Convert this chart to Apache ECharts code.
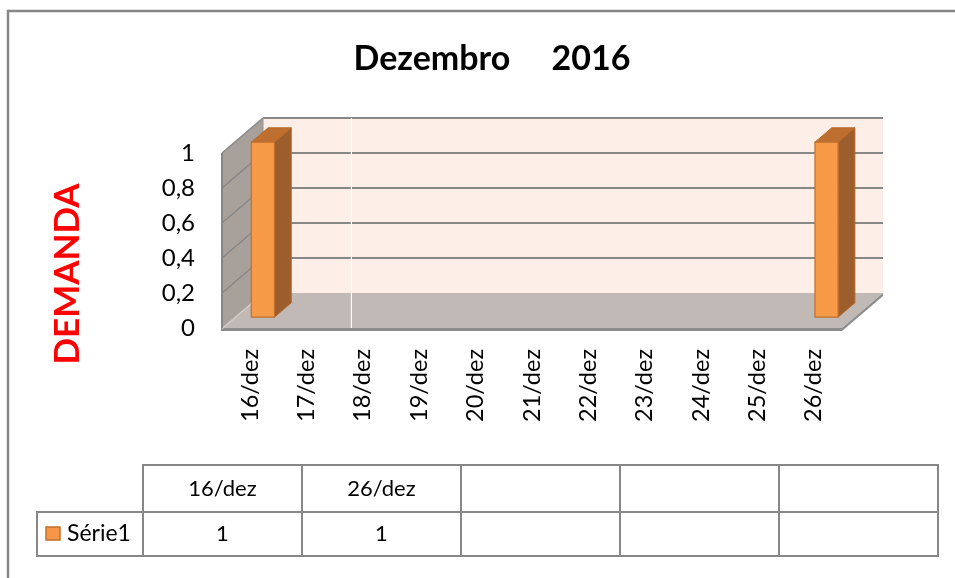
<!DOCTYPE html>
<html>
<head>
<meta charset="utf-8">
<script src="https://cdn.jsdelivr.net/npm/echarts@6/dist/echarts.min.js"></script>
<style>
html,body{margin:0;padding:0;background:#fff;}
#chart{width:955px;height:578px;}
</style>
</head>
<body>
<div id="chart"></div>
<script>
// ---- data ----
const categories = ['16/dez','17/dez','18/dez','19/dez','20/dez','21/dez','22/dez','23/dez','24/dez','25/dez','26/dez'];
const serie1 = [1, null, null, null, null, null, null, null, null, null, 1];
const seriesName = 'Série1';
const yTicks = [0, 0.2, 0.4, 0.6, 0.8, 1];
const yTickLabels = ['0', '0,2', '0,4', '0,6', '0,8', '1'];
const titleText = 'Dezembro     2016';
const yTitle = 'DEMANDA';
const tableColumns = 5;

// ---- style ----
const FONT = 'Lato, Carlito, Calibri, "Open Sans", sans-serif';
const DX = 41, DY = -35;           // 3D depth offset
const BAR_D1 = 0.31, BAR_D2 = 0.72; // bar depth fractions
const GRID = {left: 222, top: 153, width: 620, height: 175};
const LINE = '#878787';

const chart = echarts.init(document.getElementById('chart'), null, {renderer: 'canvas'});

function renderWalls(params, api) {
  const cs = params.coordSys;
  const L = cs.x, R = cs.x + cs.width, T = cs.y, B = cs.y + cs.height;
  const ch = [];
  ch.push({type: 'polygon', shape: {points: [[L+DX, T+DY], [R+DX, T+DY], [R+DX, B+DY], [L+DX, B+DY]]},
    style: {fill: '#FDEEE7'}});
  ch.push({type: 'polygon', shape: {points: [[L, T], [L+DX, T+DY], [L+DX, B+DY], [L, B]]},
    style: {fill: '#A8A09B'}});
  ch.push({type: 'polygon', shape: {points: [[L, B], [L+DX, B+DY], [R+DX, B+DY], [R, B]]},
    style: {fill: '#C1B9B5'}});
  ch.push({type: 'polygon', shape: {points: [[L, B], [R, B], [R, B+3], [L, B+3]]},
    style: {fill: '#8C8C8C'}});
  ch.push({type: 'polygon', shape: {points: [[R, B], [R+DX, B+DY], [R+DX, B+DY+3], [R, B+3]]},
    style: {fill: '#8C8C8C'}});
  yTicks.forEach(function (v) {
    if (v === 0) return;
    const y = api.coord([0, v])[1];
    ch.push({type: 'line', shape: {x1: L+DX, y1: y+DY, x2: R+DX, y2: y+DY}, style: {stroke: LINE, lineWidth: 2}});
    ch.push({type: 'line', shape: {x1: L, y1: y, x2: L+DX, y2: y+DY}, style: {stroke: LINE, lineWidth: 1.5}});
  });
  ch.push({type: 'line', shape: {x1: L, y1: T, x2: L, y2: B+3}, style: {stroke: LINE, lineWidth: 2}});
  ch.push({type: 'line', shape: {x1: L+DX, y1: T+DY, x2: L+DX, y2: B+DY}, style: {stroke: '#9a9490', lineWidth: 1}});
  ch.push({type: 'line', shape: {x1: L, y1: B+1, x2: L+DX, y2: B+DY+1}, style: {stroke: '#d8d2ce', lineWidth: 1}});
  // thin white artifact line seen in the reference
  const wx = api.coord([2, 0])[0] - 12;
  ch.push({type: 'line', shape: {x1: wx + 0.5, y1: T+DY, x2: wx + 0.5, y2: B}, style: {stroke: '#ffffff', lineWidth: 1.2}});
  return {type: 'group', children: ch};
}

function renderBar(params, api) {
  const ci = api.value(0);
  const v = api.value(1);
  const base = api.coord([ci, 0]);
  const top = api.coord([ci, v]);
  const bw = api.size([1, 0])[0] * 0.41;
  const x0 = base[0] - bw/2 + DX*BAR_D1, x1 = x0 + bw;
  const yb = base[1] + DY*BAR_D1, yt = top[1] + DY*BAR_D1;
  const ex = DX*(BAR_D2-BAR_D1), ey = DY*(BAR_D2-BAR_D1);
  return {type: 'group', children: [
    {type: 'polygon', shape: {points: [[x1, yt], [x1+ex, yt+ey], [x1+ex, yb+ey], [x1, yb]]},
      style: {fill: '#9C5E2C', stroke: '#B8692A', lineWidth: 1}},
    {type: 'polygon', shape: {points: [[x0, yt], [x0+ex, yt+ey], [x1+ex, yt+ey], [x1, yt]]},
      style: {fill: '#BE6F2F', stroke: '#B8692A', lineWidth: 1}},
    {type: 'rect', shape: {x: x0, y: yt, width: bw, height: yb - yt},
      style: {fill: '#F79A48', stroke: '#C0702F', lineWidth: 1.2}}
  ]};
}

// ---- data table (graphic) ----
const tCats = [], tVals = [];
categories.forEach(function (c, i) { if (serie1[i] != null) { tCats.push(c); tVals.push(serie1[i]); } });
while (tCats.length < tableColumns) { tCats.push(''); tVals.push(''); }

const TX = 143, TW = 159, TY0 = 465, TY1 = 512, TY2 = 556, LX = 37;
const tableEls = [];
for (let i = 0; i < tableColumns; i++) {
  const x = TX + i*TW;
  tableEls.push({type: 'rect', shape: {x: x, y: TY0, width: TW, height: TY1-TY0}, style: {fill: 'none', stroke: LINE, lineWidth: 2}});
  tableEls.push({type: 'rect', shape: {x: x, y: TY1, width: TW, height: TY2-TY1}, style: {fill: 'none', stroke: LINE, lineWidth: 2}});
  tableEls.push({type: 'text', x: x + TW/2, y: (TY0+TY1)/2, style: {text: tCats[i], fontSize: 22, fontFamily: FONT, fill: '#000', align: 'center', verticalAlign: 'middle'}});
  tableEls.push({type: 'text', x: x + TW/2, y: (TY1+TY2)/2, style: {text: String(tVals[i]), fontSize: 22, fontFamily: FONT, fill: '#000', align: 'center', verticalAlign: 'middle'}});
}
tableEls.push({type: 'rect', shape: {x: LX, y: TY1, width: TX-LX, height: TY2-TY1}, style: {fill: 'none', stroke: LINE, lineWidth: 2}});
tableEls.push({type: 'rect', shape: {x: 46, y: 527, width: 14, height: 13}, style: {fill: '#F79646', stroke: '#C0702F', lineWidth: 1.5}});
tableEls.push({type: 'text', x: 67, y: (TY1+TY2)/2, style: {text: seriesName, fontSize: 23, fontFamily: FONT, fill: '#000', align: 'left', verticalAlign: 'middle'}});

const option = {
  backgroundColor: '#ffffff',
  animation: false,
  title: {
    text: titleText, left: 487, top: 37, textAlign: 'center',
    textStyle: {fontSize: 34, fontWeight: 'bold', fontFamily: FONT, color: '#000'}
  },
  grid: {left: GRID.left, top: GRID.top, width: GRID.width, height: GRID.height, containLabel: false},
  xAxis: {
    type: 'category', data: categories, boundaryGap: true,
    axisLine: {show: false}, axisTick: {show: false}, splitLine: {show: false},
    axisLabel: {rotate: 90, margin: 21, fontSize: 23.5, fontFamily: FONT, color: '#000', interval: 0}
  },
  yAxis: {
    type: 'value', min: 0, max: 1, interval: 0.2,
    axisLine: {show: false}, axisTick: {show: false}, splitLine: {show: false},
    axisLabel: {margin: 27, fontSize: 24, fontFamily: FONT, color: '#000',
      formatter: function (v) { const k = yTicks.findIndex(function (t) { return Math.abs(t - v) < 1e-9; }); return k >= 0 ? yTickLabels[k] : ''; }}
  },
  series: [
    {type: 'custom', name: 'walls', renderItem: renderWalls, data: [[0, 0]], z: 1, silent: true},
    {type: 'custom', name: seriesName, renderItem: renderBar, z: 2,
      data: serie1.map(function (v, i) { return [i, v]; }).filter(function (d) { return d[1] != null; })}
  ],
  graphic: [
    {type: 'rect', shape: {x: 8, y: 11, width: 980, height: 620}, style: {fill: 'none', stroke: '#878787', lineWidth: 2.5}, z: 0},
    {type: 'text', x: 68, y: 274, rotation: Math.PI/2,
      style: {text: yTitle, fontSize: 35, fontWeight: 'bold', fontFamily: FONT, fill: '#FF0000', align: 'center', verticalAlign: 'middle'}},
    {type: 'group', children: tableEls}
  ]
};
chart.setOption(option);
</script>
</body>
</html>
